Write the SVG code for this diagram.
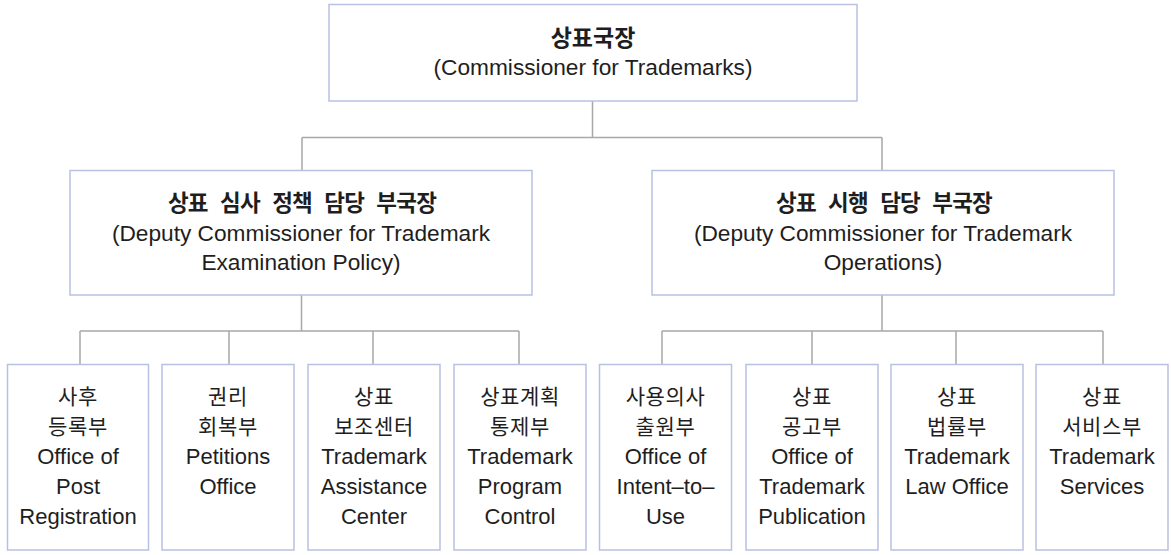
<svg xmlns="http://www.w3.org/2000/svg" width="1171" height="555" viewBox="0 0 1171 555">
<style>
.box{fill:#ffffff;stroke:#b9c1e2;stroke-width:1.5}
.con{fill:none;stroke:#a8a8a8;stroke-width:1.5}
text{font-family:"Liberation Sans","Noto Sans CJK KR",sans-serif;fill:#1e1e1e;text-anchor:middle}
.ko{font-family:"Noto Sans CJK KR",sans-serif}
.tb{font-size:23px;font-weight:bold}
.mb{font-size:22.5px;font-weight:bold;letter-spacing:-0.8px;word-spacing:8px}
.en{font-size:22.7px}
.lf{font-size:22px}
.lk{font-size:21px;letter-spacing:0.6px}
</style>
<rect width="1171" height="555" fill="#ffffff"/>
<g id="connectors">
<path class="con" d="M592.5,101 V137.5 M302,137.5 H882 M302,137.5 V170.5 M882,137.5 V170.5"/>
<path class="con" d="M301.5,295 V331 M80,331 H519 M80,331 V364 M229,331 V364 M373,331 V364 M519,331 V364"/>
<path class="con" d="M882,295 V331 M662,331 H1103 M662,331 V364 M812,331 V364 M956,331 V364 M1103,331 V364"/>
</g>
<g id="commissioner">
<rect class="box" x="329" y="4.5" width="528" height="96.5"/>
<text class="ko tb" x="593" y="46">상표국장</text>
<text class="en" x="593" y="75">(Commissioner for Trademarks)</text>
</g>
<g id="deputy-policy">
<rect class="box" x="70" y="170.5" width="462" height="124.5"/>
<text class="ko mb" x="302" y="211">상표 심사 정책 담당 부국장</text>
<text class="en" x="301" y="241">(Deputy Commissioner for Trademark</text>
<text class="en" x="301" y="270">Examination Policy)</text>
</g>
<g id="deputy-operations">
<rect class="box" x="652" y="170.5" width="462" height="124.5"/>
<text class="ko mb" x="884" y="211">상표 시행 담당 부국장</text>
<text class="en" x="883" y="241">(Deputy Commissioner for Trademark</text>
<text class="en" x="883" y="270">Operations)</text>
</g>
<g id="post-registration">
<rect class="box" x="7.5" y="364.5" width="141" height="185.5"/>
<text class="ko lk" x="78" y="404">사후</text>
<text class="ko lk" x="78" y="434">등록부</text>
<text class="lf" x="78" y="464">Office of</text>
<text class="lf" x="78" y="494">Post</text>
<text class="lf" x="78" y="524">Registration</text>
</g>
<g id="petitions">
<rect class="box" x="162" y="364.5" width="132" height="185.5"/>
<text class="ko lk" x="228" y="404">권리</text>
<text class="ko lk" x="228" y="434">회복부</text>
<text class="lf" x="228" y="464">Petitions</text>
<text class="lf" x="228" y="494">Office</text>
</g>
<g id="assistance-center">
<rect class="box" x="308" y="364.5" width="132" height="185.5"/>
<text class="ko lk" x="374" y="404">상표</text>
<text class="ko lk" x="374" y="434">보조센터</text>
<text class="lf" x="374" y="464">Trademark</text>
<text class="lf" x="374" y="494">Assistance</text>
<text class="lf" x="374" y="524">Center</text>
</g>
<g id="program-control">
<rect class="box" x="454" y="364.5" width="132" height="185.5"/>
<text class="ko lk" x="520" y="404">상표계획</text>
<text class="ko lk" x="520" y="434">통제부</text>
<text class="lf" x="520" y="464">Trademark</text>
<text class="lf" x="520" y="494">Program</text>
<text class="lf" x="520" y="524">Control</text>
</g>
<g id="intent-to-use">
<rect class="box" x="599.5" y="364.5" width="132" height="185.5"/>
<text class="ko lk" x="665.5" y="404">사용의사</text>
<text class="ko lk" x="665.5" y="434">출원부</text>
<text class="lf" x="665.5" y="464">Office of</text>
<text class="lf" x="665.5" y="494">Intent–to–</text>
<text class="lf" x="665.5" y="524">Use</text>
</g>
<g id="publication">
<rect class="box" x="746" y="364.5" width="132" height="185.5"/>
<text class="ko lk" x="812" y="404">상표</text>
<text class="ko lk" x="812" y="434">공고부</text>
<text class="lf" x="812" y="464">Office of</text>
<text class="lf" x="812" y="494">Trademark</text>
<text class="lf" x="812" y="524">Publication</text>
</g>
<g id="law-office">
<rect class="box" x="891" y="364.5" width="132" height="185.5"/>
<text class="ko lk" x="957" y="404">상표</text>
<text class="ko lk" x="957" y="434">법률부</text>
<text class="lf" x="957" y="464">Trademark</text>
<text class="lf" x="957" y="494">Law Office</text>
</g>
<g id="services">
<rect class="box" x="1036" y="364.5" width="132" height="185.5"/>
<text class="ko lk" x="1102" y="404">상표</text>
<text class="ko lk" x="1102" y="434">서비스부</text>
<text class="lf" x="1102" y="464">Trademark</text>
<text class="lf" x="1102" y="494">Services</text>
</g>
</svg>
